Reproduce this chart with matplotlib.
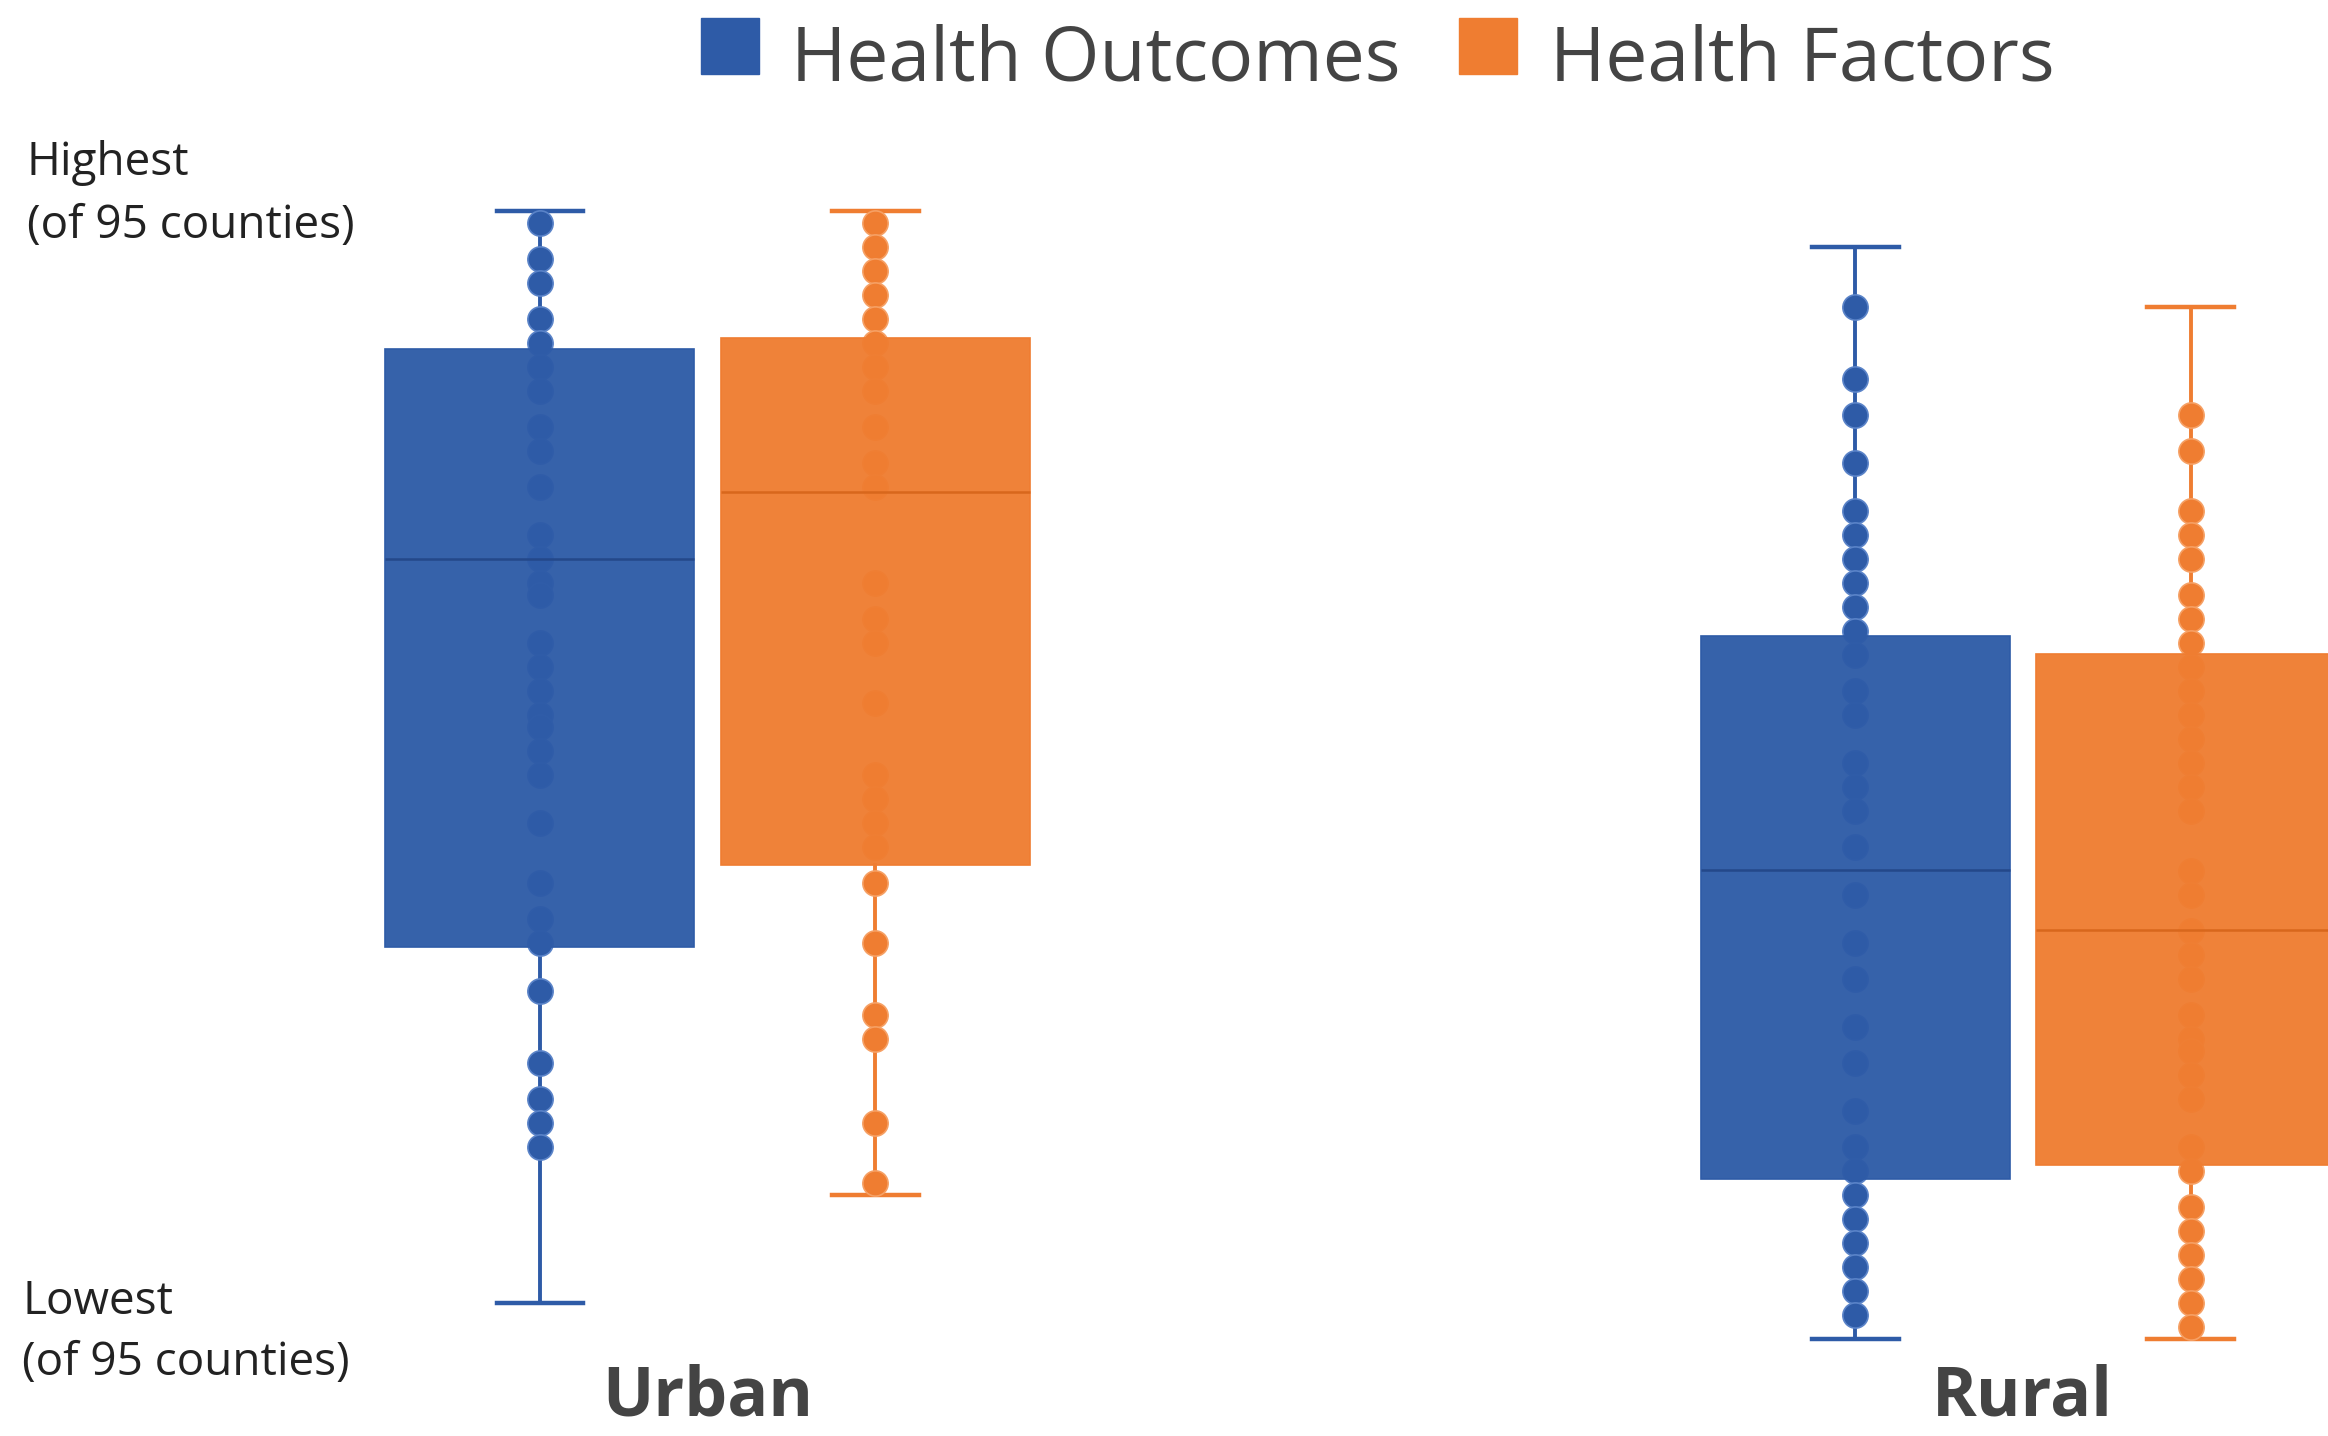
import numpy as np
import matplotlib.pyplot as plt
from matplotlib.colors import to_rgba
from matplotlib.patches import Rectangle

plt.rcParams['font.family'] = ['Open Sans', 'DejaVu Sans']

# county rankings, 1 = highest of 95
groups = ["Urban", "Rural"]
series = ["Health Outcomes", "Health Factors"]
colors = ["#2e5ba7", "#ef7d31"]

# box summaries per group (Urban, Rural)
outcomes_top = [1, 4]
outcomes_q1 = [12.5, 36.4]
outcomes_med = [30, 55.9]
outcomes_q3 = [62.3, 81.6]
outcomes_bottom = [92, 95]

factors_top = [1, 9]
factors_q1 = [11.6, 37.9]
factors_med = [24.4, 60.9]
factors_q3 = [55.5, 80.5]
factors_bottom = [83, 95]

# county ranks shown as dots
urban_outcomes = [2, 5, 7, 10, 12, 14, 16, 19, 21, 24, 28, 30, 32, 33, 37, 39, 41, 43,
                  44, 46, 48, 52, 57, 60, 62, 66, 72, 75, 77, 79]
urban_factors = [2, 4, 6, 8, 10, 12, 14, 16, 19, 22, 24, 32, 35, 37, 42, 48, 50, 52,
                 54, 57, 62, 68, 70, 77, 82]
rural_outcomes = [9, 15, 18, 22, 26, 28, 30, 32, 34, 36, 38, 41, 43, 47, 49, 51, 54, 58,
                  62, 65, 69, 72, 76, 79, 81, 83, 85, 87, 89, 91, 93]
rural_factors = [18, 21, 26, 28, 30, 33, 35, 37, 39, 41, 43, 45, 47, 49, 51, 56, 58, 61,
                 63, 65, 68, 70, 71, 73, 75, 79, 81, 84, 86, 88, 90, 92, 94]

fig = plt.figure(figsize=(23.28, 14.36), dpi=100)
ax = fig.add_axes([0, 0, 1, 1])
ax.set_xlim(-0.538, 1.232)
ax.set_ylim(103.04, -16.56)
ax.axis("off")

x = np.arange(len(groups))
offset = 0.1275

summaries = [
    (outcomes_top, outcomes_q1, outcomes_med, outcomes_q3, outcomes_bottom),
    (factors_top, factors_q1, factors_med, factors_q3, factors_bottom),
]
dots = [[urban_outcomes, rural_outcomes], [urban_factors, rural_factors]]
median_colors = ["#24488a", "#d8671c"]
edge_colors = ["#5a83c8", "#f6a064"]

for i, (top, q1, med, q3, bottom) in enumerate(summaries):
    pos = x + (offset if i else -offset)
    stats = []
    for g in range(len(groups)):
        stats.append(dict(whislo=top[g], q1=q1[g], med=med[g], q3=q3[g],
                          whishi=bottom[g], label=groups[g]))
    ax.bxp(stats, positions=pos, widths=0.235, capwidths=0.066,
           showfliers=False, patch_artist=True,
           boxprops=dict(facecolor=to_rgba(colors[i], 0.96), edgecolor=colors[i],
                         linewidth=1.2, zorder=4),
           medianprops=dict(color=median_colors[i], linewidth=1.8, zorder=5),
           whiskerprops=dict(color=colors[i], linewidth=2.8, zorder=2),
           capprops=dict(color=colors[i], linewidth=3.2, zorder=2))
    for g in range(len(groups)):
        pts = dots[i][g]
        ax.scatter(np.full(len(pts), pos[g]), pts, s=330, color=colors[i],
                   edgecolors=edge_colors[i], linewidths=1.2, zorder=3)

# group labels
for g, name in enumerate(groups):
    ax.text(x[g], 101.3, name, ha="center", va="baseline", fontsize=49,
            fontweight="bold", color="#444444")

# rank extremes
ax.text(0.0115, 1 - 118 / 967, "Highest", transform=fig.transFigure, fontsize=33,
        color="#222222", va="baseline")
ax.text(0.0115, 1 - 160 / 967, "(of 95 counties)", transform=fig.transFigure,
        fontsize=33, color="#222222", va="baseline")
ax.text(0.0096, 1 - 885 / 967, "Lowest", transform=fig.transFigure, fontsize=33,
        color="#222222", va="baseline")
ax.text(0.0096, 1 - 926 / 967, "(of 95 counties)", transform=fig.transFigure,
        fontsize=33, color="#222222", va="baseline")

# legend
legend_x = [0.3010, 0.6269]
for i, name in enumerate(series):
    fig.add_artist(Rectangle((legend_x[i], 0.9483), 0.0249, 0.0393,
                             transform=fig.transFigure, color=colors[i]))
    fig.text(legend_x[i] + 0.0389, 1 - 54 / 967, name, fontsize=54,
             color="#444444", va="baseline")

fig.savefig("out.png", dpi=100, facecolor="white")
